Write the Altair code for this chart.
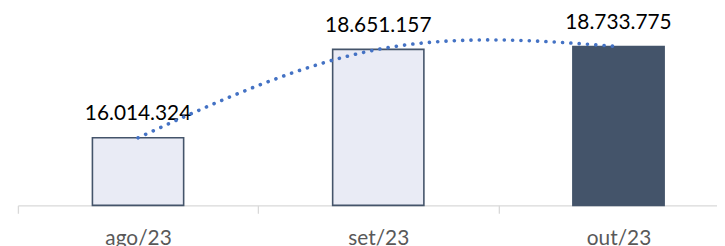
import json
import altair as alt
import pandas as pd

# ---- data ----
categories = ["ago/23", "set/23", "out/23"]
values = [16014324, 18651157, 18733775]
value_labels = ["16.014.324", "18.651.157", "18.733.775"]
kind = ["anterior", "anterior", "atual"]
positions = [0, 1, 2]

df = pd.DataFrame({
    "idx": positions,
    "cat": categories,
    "value": values,
    "label": value_labels,
    "kind": kind,
})

FONT = "Lato"
cats_js = json.dumps(categories)

xscale = alt.Scale(domain=[-0.5, 2.41], nice=False, zero=False, padding=0)
yscale = alt.Scale(domain=[14000000, 19500000], nice=False, zero=False)

x_axis = alt.Axis(
    values=[-0.5, 0, 0.5, 1, 1.5, 2, 2.5],
    labelExpr=f"datum.value % 1 === 0 ? {cats_js}[datum.value] : ''",
    tickOpacity={"condition": {"test": "datum.value % 1 === 0", "value": 0}, "value": 1},
    title=None,
    grid=False,
    domainColor="#D9D9D9",
    domainWidth=1.3,
    tickColor="#D9D9D9",
    tickWidth=1.3,
    tickSize=8,
    labelFont=FONT,
    labelFontSize=21,
    labelColor="#595959",
    labelPadding=15,
    labelFlush=False,
    labelOverlap=False,
)

base = alt.Chart(df)

bars = base.mark_bar(size=92, stroke="#44546A", strokeWidth=1.6).encode(
    x=alt.X("idx:Q", scale=xscale, axis=x_axis),
    y=alt.Y("value:Q", scale=yscale, axis=None),
    y2=alt.datum(14000000),
    fill=alt.Fill("kind:N", scale=alt.Scale(domain=["anterior", "atual"],
                                            range=["#E9EBF5", "#44546A"]), legend=None),
)

text = base.mark_text(dy=-18, baseline="alphabetic", align="center",
                      font=FONT, fontSize=21, color="#000000").encode(
    x=alt.X("idx:Q", scale=xscale),
    y=alt.Y("value:Q", scale=yscale),
    text="label:N",
)

# smooth dotted trend curve through the bar tops
trend = base.mark_line(color="#4472C4", strokeWidth=3.6, strokeDash=[0.1, 8.3],
                       strokeCap="round", interpolate="natural").encode(
    x=alt.X("idx:Q", scale=xscale),
    y=alt.Y("value:Q", scale=yscale),
)

chart = alt.layer(bars, text, trend).properties(
    width=705,
    height=186,
    autosize=alt.AutoSizeParams(type="none"),
    padding={"left": 10, "top": 12, "right": 0, "bottom": 40},
).configure_view(stroke=None)

chart.save("out.html", embed_options={"renderer": "svg", "actions": False})
